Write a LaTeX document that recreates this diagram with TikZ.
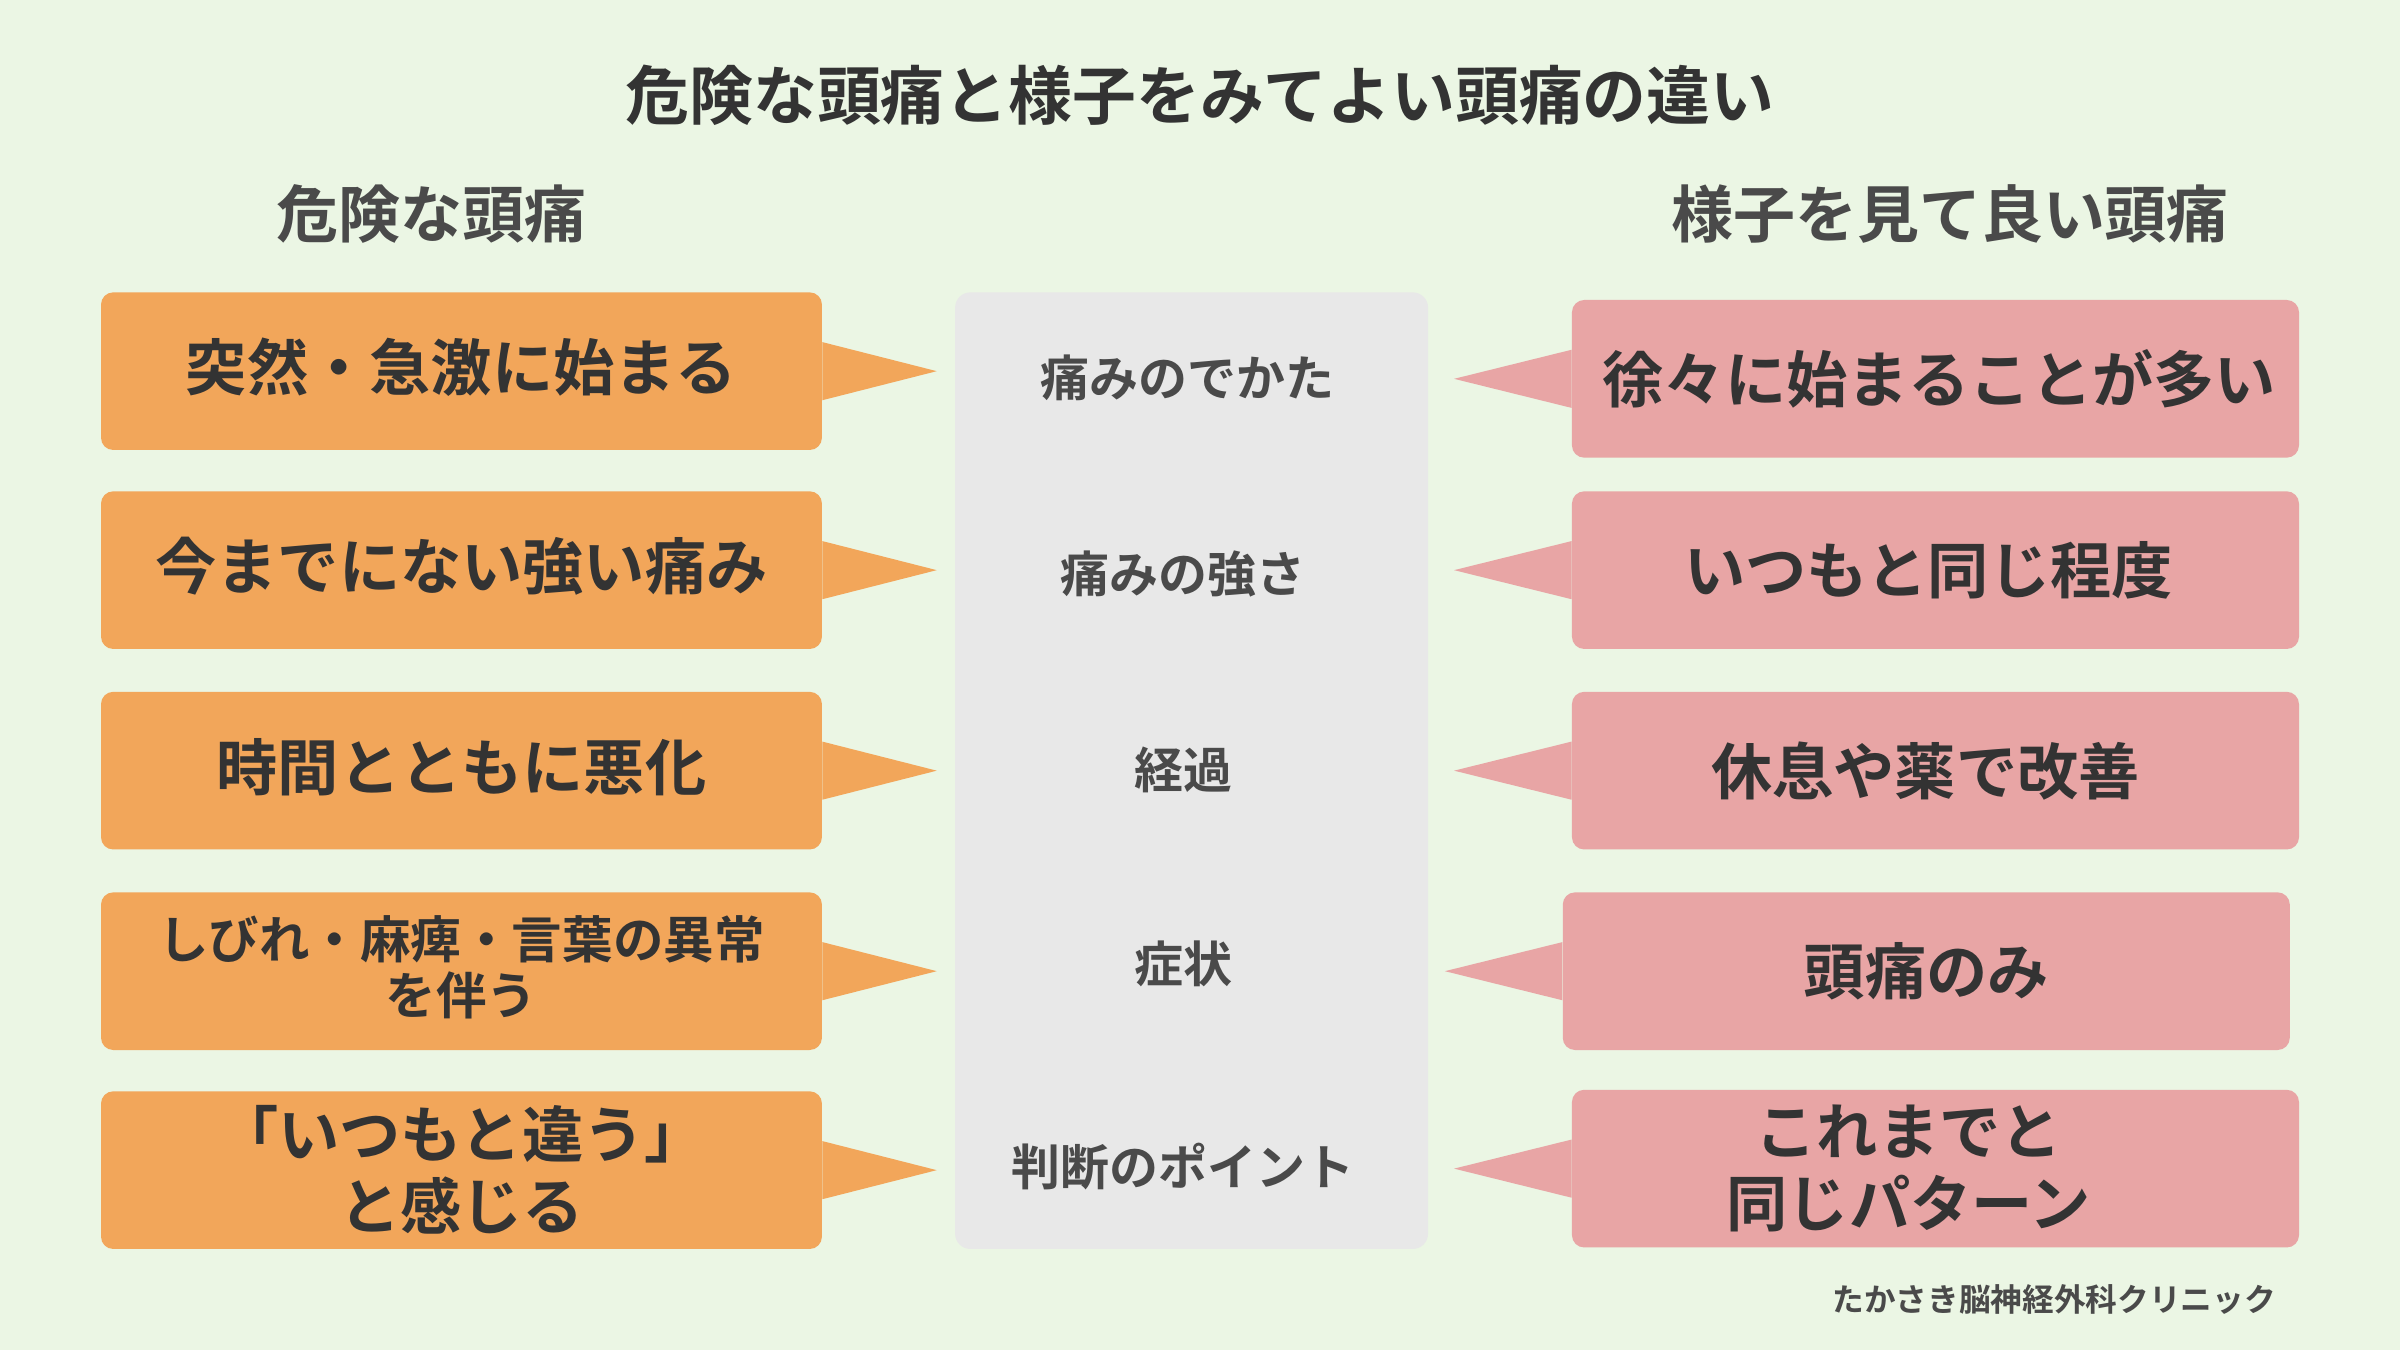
\documentclass[tikz,border=0pt]{standalone}
\usepackage{fontspec}
\setmainfont{Noto Sans CJK JP}[BoldFont={Noto Sans CJK JP Bold}]
\definecolor{bgGreen}{HTML}{EBF6E4}
\definecolor{dangerOrange}{HTML}{F2A65A}
\definecolor{safePink}{HTML}{E8A5A5}
\definecolor{midGray}{HTML}{E8E8E8}
\definecolor{textDark}{HTML}{333333}
\definecolor{headGray}{HTML}{4A4A4A}
\begin{document}
\begin{tikzpicture}[x=1pt,y=-1pt,
    danger/.style={rectangle, rounded corners=8pt, fill=dangerOrange, minimum width=471pt, minimum height=103pt},
    safe/.style={rectangle, rounded corners=8pt, fill=safePink, minimum width=475pt, minimum height=103pt},
    boxtext/.style={align=center, font=\fontsize{40}{47}\selectfont\bfseries, text=textDark},
    label/.style={font=\fontsize{32}{36}\selectfont\bfseries, text=headGray},
    head/.style={font=\fontsize{40.5}{46}\selectfont\bfseries, text=headGray}
]
\fill[bgGreen] (0,0) rectangle (1568,882);

% Titles
\node[font=\fontsize{41.7}{48}\selectfont\bfseries, text=textDark] (title) at (784,62) {危険な頭痛と様子をみてよい頭痛の違い};
\node[head] (hL) at (282,140) {危険な頭痛};
\node[head] (hR) at (1274,140) {様子を見て良い頭痛};

% Middle column
\node[rectangle, rounded corners=10pt, fill=midGray, minimum width=309pt, minimum height=625pt] (mid) at (778.5,503.5) {};
\node[label] (m1) at (776,247) {痛みのでかた};
\node[label] (m2) at (773,375) {痛みの強さ};
\node[label] (m3) at (773,503) {経過};
\node[label] (m4) at (773,630) {症状};
\node[label] (m5) at (773,762) {判断のポイント};

% Left boxes
\node[danger] (d1) at (301.5,242.5) {};
\node[danger] (d2) at (301.5,372.5) {};
\node[danger] (d3) at (301.5,503.5) {};
\node[danger] (d4) at (301.5,634.5) {};
\node[danger] (d5) at (301.5,764.5) {};
\node[boxtext] (d1t) at (301.5,240) {突然・急激に始まる};
\node[boxtext] (d2t) at (301.5,370) {今までにない強い痛み};
\node[boxtext] (d3t) at (301.5,501) {時間とともに悪化};
\node[boxtext, font=\fontsize{33}{37}\selectfont\bfseries] (d4t) at (301.5,632) {しびれ・麻痺・言葉の異常\\を伴う};
\node[boxtext] (d5t) at (301.5,764.5) {「いつもと違う」\\と感じる};

% Right boxes
\node[safe] (s1) at (1264.5,247.5) {};
\node[safe] (s2) at (1264.5,372.5) {};
\node[safe] (s3) at (1264.5,503.5) {};
\node[safe] (s4) at (1258.5,634.5) {};
\node[safe] (s5) at (1264.5,763.5) {};
\node[boxtext] (s1t) at (1267,247.5) {徐々に始まることが多い};
\node[boxtext] (s2t) at (1260,372.5) {いつもと同じ程度};
\node[boxtext] (s3t) at (1258,503.5) {休息や薬で改善};
\node[boxtext] (s4t) at (1258.5,634.5) {頭痛のみ};
\node[boxtext] (s5t) at (1247,763.5) {これまでと\\同じパターン};

% Pointers
\coordinate (t1) at (612,242.5);
\coordinate (t2) at (612,372.5);
\coordinate (t3) at (612,503.5);
\coordinate (t4) at (612,634.5);
\coordinate (t5) at (612,764.5);
\fill[dangerOrange] ([yshift=19pt]d1.east) -- (t1) -- ([yshift=-19pt]d1.east) -- cycle;
\fill[dangerOrange] ([yshift=19pt]d2.east) -- (t2) -- ([yshift=-19pt]d2.east) -- cycle;
\fill[dangerOrange] ([yshift=19pt]d3.east) -- (t3) -- ([yshift=-19pt]d3.east) -- cycle;
\fill[dangerOrange] ([yshift=19pt]d4.east) -- (t4) -- ([yshift=-19pt]d4.east) -- cycle;
\fill[dangerOrange] ([yshift=19pt]d5.east) -- (t5) -- ([yshift=-19pt]d5.east) -- cycle;
\coordinate (u1) at (950,247.5);
\coordinate (u2) at (950,372.5);
\coordinate (u3) at (950,503.5);
\coordinate (u4) at (944,634.5);
\coordinate (u5) at (950,763.5);
\fill[safePink] ([yshift=19pt]s1.west) -- (u1) -- ([yshift=-19pt]s1.west) -- cycle;
\fill[safePink] ([yshift=19pt]s2.west) -- (u2) -- ([yshift=-19pt]s2.west) -- cycle;
\fill[safePink] ([yshift=19pt]s3.west) -- (u3) -- ([yshift=-19pt]s3.west) -- cycle;
\fill[safePink] ([yshift=19pt]s4.west) -- (u4) -- ([yshift=-19pt]s4.west) -- cycle;
\fill[safePink] ([yshift=19pt]s5.west) -- (u5) -- ([yshift=-19pt]s5.west) -- cycle;

% Footer
\node[font=\fontsize{20.7}{24}\selectfont\bfseries, text=headGray] (foot) at (1342,849) {たかさき脳神経外科クリニック};
\end{tikzpicture}
\end{document}
